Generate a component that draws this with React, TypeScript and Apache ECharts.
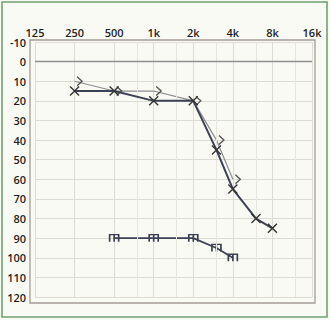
import React, { useEffect, useRef } from "react";
import * as echarts from "echarts";

const freqTicks = [125, 250, 500, 1000, 2000, 4000, 8000, 16000];
const freqLabels = ["125", "250", "500", "1k", "2k", "4k", "8k", "16k"];
const minorFreqs = [750, 1500, 3000, 6000, 12000];

const rightFreqs = [250, 500, 1000, 2000, 3000, 4000, 6000, 8000];
const rightDb = [15, 15, 20, 20, 45, 65, 80, 85];

const leftFreqs = [250, 500, 1000, 2000, 3000, 4000];
const leftDb = [10, 15, 15, 20, 40, 60];

const boneFreqs = [500, 1000, 2000, 3000, 4000];
const boneDb = [90, 90, 90, 95, 100];

const oct = (f: number) => Math.log2(f / freqTicks[0]);
const pts = (fs: number[], ds: number[]) => fs.map((f, i) => [oct(f), ds[i]]);

const labelFont = {
  fontSize: 11,
  color: "#1e1e1e",
  fontWeight: 600,
  fontFamily: "Open Sans, Liberation Sans, Arial, sans-serif",
};

export default function App() {
  const ref = useRef<HTMLDivElement>(null);
  useEffect(() => {
    document.body.style.margin = "0";
    const chart = echarts.init(ref.current!, null, { renderer: "svg" });
    chart.setOption({
      animation: false,
      backgroundColor: "#fafaf5",
      grid: { left: 35, right: 18, top: 42, bottom: 23 },
      xAxis: {
        type: "value",
        position: "top",
        min: 0,
        max: 7,
        interval: 1,
        axisLine: { show: false },
        axisTick: { show: false },
        axisLabel: {
          margin: 4,
          ...labelFont,
          formatter: (v: number) => freqLabels[Math.round(v)] ?? "",
        },
        splitLine: { lineStyle: { color: "#dcdcd5", width: 1 } },
      },
      yAxis: {
        type: "value",
        inverse: true,
        min: -10,
        max: 120,
        interval: 10,
        axisLine: { show: false },
        axisTick: { show: false },
        axisLabel: { margin: 9, ...labelFont },
        splitLine: { lineStyle: { color: "#dcdcd5", width: 1 } },
      },
      graphic: [
        {
          type: "rect",
          shape: { x: 30, y: 40, width: 285, height: 263 },
          style: { fill: "none", stroke: "#a39d95", lineWidth: 1.3 },
          silent: true,
        },
        {
          type: "rect",
          shape: { x: 2, y: 2, width: 325, height: 315 },
          style: { fill: "none", stroke: "#6fa36f", lineWidth: 1.6 },
          silent: true,
        },
      ],
      series: [
        {
          type: "line",
          data: pts(leftFreqs, leftDb),
          symbol: "path://M0 0L10 5L0 10",
          symbolSize: [5, 9],
          symbolOffset: [5, 0],
          showSymbol: true,
          lineStyle: { color: "#8c8c90", width: 1.2 },
          itemStyle: { color: "transparent", borderColor: "#555", borderWidth: 1.2 },
          z: 3,
          markLine: {
            silent: true,
            symbol: "none",
            label: { show: false },
            animation: false,
            data: [
              ...minorFreqs.map((f) => ({
                xAxis: oct(f),
                lineStyle: { color: "#e6e6df", width: 1, type: "solid" },
              })),
              { yAxis: 0, lineStyle: { color: "#8f8f8f", width: 1.3, type: "solid" } },
            ],
          },
        },
        {
          type: "line",
          data: pts(boneFreqs, boneDb),
          symbol: "path://M0 10L0 0L10 0L10 10M5 0L5 10",
          symbolSize: [9, 7],
          lineStyle: { color: "#3d4154", width: 1.8 },
          itemStyle: { color: "transparent", borderColor: "#3d4154", borderWidth: 1.5 },
          z: 4,
        },
        {
          type: "line",
          data: pts(rightFreqs, rightDb),
          symbol: "path://M0 0L10 10M10 0L0 10",
          symbolSize: 9,
          lineStyle: { color: "#3d4154", width: 2 },
          itemStyle: { color: "transparent", borderColor: "#333", borderWidth: 1.4 },
          z: 5,
        },
      ],
    });
    return () => chart.dispose();
  }, []);
  return (
    <div
      ref={ref}
      style={{ position: "absolute", left: 0, top: 0, width: 330, height: 320, background: "#fff" }}
    />
  );
}
